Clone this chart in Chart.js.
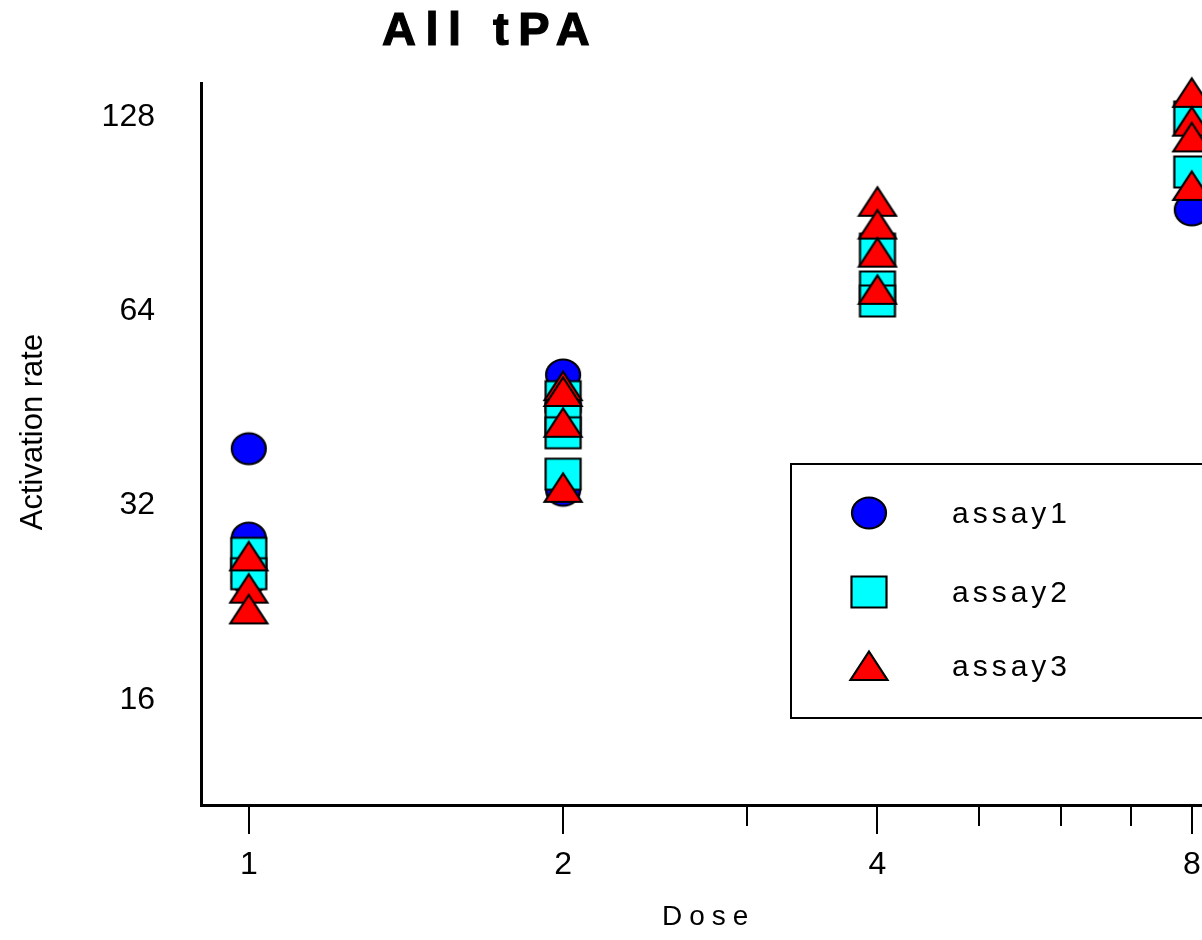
<!DOCTYPE html>
<html>
<head>
<meta charset="utf-8">
<title>All tPA</title>
<script src="https://cdn.jsdelivr.net/npm/chart.js@4/dist/chart.umd.min.js"></script>
<style>
  html, body { margin: 0; padding: 0; background: #fff; overflow: hidden; }
  #wrap { width: 1310px; height: 940px; }
</style>
</head>
<body>
<div id="wrap"><canvas id="chart" width="1310" height="940"></canvas></div>
<script>
const doseTicks = [1, 2, 4, 8];
const doseMinorTicks = [3, 5, 6, 7];
const rateTicks = [16, 32, 64, 128];
const seriesNames = ["assay1", "assay2", "assay3"];

const assay1Dose = [1, 1, 1, 2, 2, 8];
const assay1Rate = [39.2, 28.5, 24.6, 51.0, 33.8, 91.9];
const assay2Dose = [1, 1, 2, 2, 2, 2, 4, 4, 4, 8, 8];
const assay2Rate = [27.0, 25.1, 47.2, 43.7, 41.5, 35.8, 79.9, 69.8, 66.4, 128.0, 105.2];
const assay3Dose = [1, 1, 1, 2, 2, 2, 2, 4, 4, 4, 4, 8, 8, 8, 8];
const assay3Rate = [26.7, 23.8, 22.1, 49.0, 48.0, 43.0, 34.1, 94.6, 87.2, 78.9, 69.1, 139.5, 125.9, 119.0, 100.1];

// marker shapes drawn once into small canvases, used as pointStyle
function makeMarker(shape, fill) {
  const w = 42, h = 36;
  const c = document.createElement("canvas");
  c.width = w;
  c.height = h;
  const g = c.getContext("2d");
  g.fillStyle = fill;
  g.strokeStyle = "#000";
  g.lineWidth = 2.2;
  g.beginPath();
  if (shape === "circle") {
    g.ellipse(w / 2, h / 2, 17, 15.5, 0, 0, Math.PI * 2);
  } else if (shape === "square") {
    g.rect(w / 2 - 17.5, h / 2 - 15.5, 35, 31);
  } else {
    g.moveTo(w / 2, h / 2 - 14.5);
    g.lineTo(w / 2 + 18.5, h / 2 + 14);
    g.lineTo(w / 2 - 18.5, h / 2 + 14);
    g.closePath();
  }
  g.fill();
  g.stroke();
  return c;
}

const markers = [
  makeMarker("circle", "#0000ff"),
  makeMarker("square", "#00ffff"),
  makeMarker("triangle", "#ff0000"),
];

function points(doses, rates) {
  return doses.map((d, i) => ({ x: d, y: rates[i] }));
}

const decor = {
  id: "decor",
  afterDraw(chart) {
    const g = chart.ctx;
    const xs = chart.scales.x;
    const bottom = chart.chartArea.bottom;
    g.save();
    g.strokeStyle = "#000";
    g.lineWidth = 2;
    doseMinorTicks.forEach((v) => {
      const px = Math.round(xs.getPixelForValue(v));
      g.beginPath();
      g.moveTo(px, bottom + 1);
      g.lineTo(px, bottom + 21);
      g.stroke();
    });

    g.fillStyle = "#000";
    g.textBaseline = "alphabetic";
    g.textAlign = "left";
    g.font = "bold 47px 'Liberation Sans'";
    g.letterSpacing = "9.5px";
    g.lineWidth = 1.2;
    g.fillText("All tPA", 382, 45);
    g.strokeText("All tPA", 382, 45);

    g.font = "28px 'Liberation Sans'";
    g.letterSpacing = "7px";
    g.fillText("Dose", 662, 925);

    // legend box, right side runs off the page
    g.letterSpacing = "0px";
    g.lineWidth = 2;
    g.strokeRect(791, 464, 700, 254);
    const rows = [513, 592, 666];
    g.font = "30px 'Liberation Sans'";
    g.letterSpacing = "4px";
    seriesNames.forEach((name, i) => {
      const m = markers[i];
      g.drawImage(m, 869 - m.width / 2, rows[i] - m.height / 2);
      g.fillText(name, 952, rows[i] + 10);
    });

    g.letterSpacing = "0px";
    g.font = "31px 'Liberation Sans'";
    g.translate(42, 432);
    g.rotate(-Math.PI / 2);
    g.textAlign = "center";
    g.fillText("Activation rate", 0, 0);
    g.restore();
  },
};

const tickFont = { family: "Liberation Sans", size: 32 };

new Chart(document.getElementById("chart"), {
  type: "scatter",
  data: {
    datasets: [
      { label: seriesNames[0], data: points(assay1Dose, assay1Rate), pointStyle: markers[0], order: 3, clip: false },
      { label: seriesNames[1], data: points(assay2Dose, assay2Rate), pointStyle: markers[1], order: 2, clip: false },
      { label: seriesNames[2], data: points(assay3Dose, assay3Rate), pointStyle: markers[2], order: 1, clip: false },
    ],
  },
  options: {
    responsive: false,
    animation: false,
    layout: { padding: { left: 0, top: 83, right: 17, bottom: 0 } },
    plugins: { legend: { display: false }, tooltip: { enabled: false } },
    scales: {
      x: {
        type: "logarithmic",
        position: "bottom",
        min: 0.9,
        max: 10,
        afterBuildTicks: (s) => { s.ticks = doseTicks.map((v) => ({ value: v })); },
        afterFit: (s) => { s.height = 135; },
        border: { display: true, color: "#000", width: 3 },
        grid: { display: true, drawOnChartArea: false, drawTicks: true, tickLength: 29, lineWidth: 2, tickWidth: 2, tickColor: "#000" },
        ticks: { color: "#000", font: tickFont, padding: 12, maxRotation: 0, autoSkip: false, callback: (v) => String(v) },
      },
      y: {
        type: "logarithmic",
        min: 11,
        max: 144.5,
        afterBuildTicks: (s) => { s.ticks = rateTicks.map((v) => ({ value: v })); },
        afterFit: (s) => { s.width = 201; },
        border: { display: true, color: "#000", width: 3 },
        grid: { display: false, drawTicks: false },
        ticks: { color: "#000", font: tickFont, padding: 46, callback: (v) => String(v) },
      },
    },
  },
  plugins: [decor],
});
</script>
</body>
</html>
